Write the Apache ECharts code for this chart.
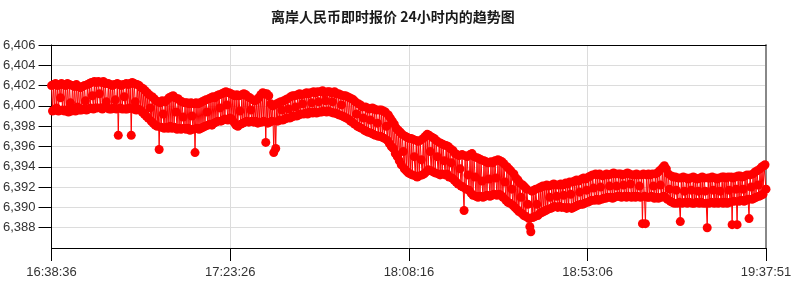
<!DOCTYPE html>
<html>
<head>
<meta charset="utf-8">
<script src="https://cdn.jsdelivr.net/npm/echarts@6/dist/echarts.min.js"></script>
<style>
html,body{margin:0;padding:0;background:#fff;}
#chart{width:800px;height:288px;}
</style>
</head>
<body>
<div id="chart"></div>
<script>
const chartTitle = '离岸人民币即时报价 24小时内的趋势图';
const startTime = '16:38:36';
const stepSeconds = 15;
const xTickLabels = ['16:38:36', '17:23:26', '18:08:16', '18:53:06', '19:37:51'];
const yTickValues = [6.388, 6.390, 6.392, 6.394, 6.396, 6.398, 6.400, 6.402, 6.404, 6.406];

// quotes, one every 15 s (16:38:36 .. 19:37:51)
const quotes = [
  6.4020, 6.3995, 6.4021, 6.3996, 6.4022, 6.3998, 6.4020, 6.3995, 6.4021, 6.4008, 6.4022, 6.3996, 6.4021, 6.3995, 6.4020,
  6.3996, 6.4022, 6.3994, 6.4021, 6.4003, 6.3995, 6.4020, 6.3996, 6.4019, 6.3995, 6.4021, 6.3999, 6.4019, 6.3996, 6.4018,
  6.3996, 6.4019, 6.3997, 6.4020, 6.4005, 6.3996, 6.4021, 6.3997, 6.4022, 6.3998, 6.4023, 6.4010, 6.3997, 6.4024, 6.3998,
  6.4023, 6.3998, 6.4024, 6.4012, 6.3998, 6.4023, 6.3997, 6.4024, 6.3999, 6.4022, 6.4004, 6.3998, 6.4022, 6.3997, 6.4021,
  6.3997, 6.4020, 6.3998, 6.4021, 6.4006, 6.3997, 6.4022, 6.3971, 6.4021, 6.3998, 6.4020, 6.3997, 6.4021, 6.4009, 6.3997,
  6.4022, 6.3997, 6.4021, 6.3998, 6.4022, 6.3971, 6.4023, 6.3997, 6.4022, 6.4004, 6.3996, 6.4021, 6.3997, 6.4020, 6.3996,
  6.4018, 6.3994, 6.4017, 6.3992, 6.4015, 6.3990, 6.4013, 6.3988, 6.4011, 6.3998, 6.3985, 6.4009, 6.3983, 6.4007, 6.3981,
  6.4005, 6.3980, 6.4004, 6.3957, 6.4003, 6.3979, 6.4005, 6.3992, 6.3978, 6.4004, 6.3979, 6.4006, 6.3978, 6.4008, 6.3980,
  6.4009, 6.3978, 6.4010, 6.3979, 6.4008, 6.3994, 6.3977, 6.4007, 6.3978, 6.4005, 6.3977, 6.4004, 6.3989, 6.3978, 6.4003,
  6.3977, 6.4003, 6.3978, 6.4002, 6.3976, 6.4003, 6.3990, 6.3977, 6.4002, 6.3954, 6.4003, 6.3978, 6.4002, 6.3977, 6.4003,
  6.3978, 6.4004, 6.3979, 6.4005, 6.3980, 6.4006, 6.3994, 6.3981, 6.4007, 6.3982, 6.4008, 6.3981, 6.4009, 6.3983, 6.4008,
  6.3984, 6.4010, 6.3985, 6.4011, 6.3998, 6.3985, 6.4012, 6.3986, 6.4013, 6.3987, 6.4014, 6.4001, 6.3986, 6.4013, 6.3988,
  6.4012, 6.3987, 6.4011, 6.3984, 6.4010, 6.3981, 6.4011, 6.3980, 6.4010, 6.3995, 6.3982, 6.4011, 6.3983, 6.4012, 6.3984,
  6.4011, 6.3985, 6.4009, 6.3984, 6.4008, 6.3996, 6.3985, 6.4006, 6.3984, 6.4005, 6.3985, 6.4006, 6.3983, 6.4008, 6.3984,
  6.4011, 6.3984, 6.4013, 6.3985, 6.4012, 6.3964, 6.4012, 6.3983, 6.4010, 6.3984, 6.4002, 6.3985, 6.4000, 6.3954, 6.4001,
  6.3958, 6.4002, 6.3985, 6.4003, 6.3986, 6.4004, 6.3996, 6.3986, 6.4005, 6.3987, 6.4006, 6.3988, 6.4007, 6.3997, 6.3988,
  6.4009, 6.3989, 6.4010, 6.3990, 6.4010, 6.3999, 6.3990, 6.4011, 6.3991, 6.4012, 6.3992, 6.4011, 6.4002, 6.3992, 6.4012,
  6.3993, 6.4013, 6.3992, 6.4012, 6.3994, 6.4013, 6.4003, 6.3993, 6.4014, 6.3994, 6.4013, 6.3993, 6.4014, 6.4004, 6.3994,
  6.4014, 6.3994, 6.4015, 6.3995, 6.4013, 6.4005, 6.3994, 6.4014, 6.3995, 6.4014, 6.3994, 6.4013, 6.4004, 6.3993, 6.4014,
  6.3993, 6.4012, 6.3992, 6.4012, 6.3991, 6.4011, 6.4001, 6.3990, 6.4010, 6.3989, 6.4010, 6.3988, 6.4009, 6.3987, 6.4008,
  6.3985, 6.4007, 6.3984, 6.4006, 6.3982, 6.4004, 6.3992, 6.3980, 6.4002, 6.3979, 6.4001, 6.3978, 6.3999, 6.3988, 6.3976,
  6.3999, 6.3975, 6.3998, 6.3974, 6.3997, 6.3986, 6.3973, 6.3998, 6.3972, 6.3997, 6.3971, 6.3996, 6.3983, 6.3970, 6.3996,
  6.3970, 6.3996, 6.3969, 6.3995, 6.3968, 6.3994, 6.3980, 6.3966, 6.3991, 6.3963, 6.3988, 6.3960, 6.3985, 6.3958, 6.3982,
  6.3953, 6.3978, 6.3950, 6.3976, 6.3946, 6.3974, 6.3942, 6.3972, 6.3955, 6.3938, 6.3970, 6.3936, 6.3969, 6.3934, 6.3968,
  6.3933, 6.3968, 6.3932, 6.3967, 6.3950, 6.3931, 6.3966, 6.3930, 6.3965, 6.3931, 6.3966, 6.3947, 6.3932, 6.3968, 6.3933,
  6.3970, 6.3935, 6.3972, 6.3937, 6.3971, 6.3955, 6.3936, 6.3969, 6.3935, 6.3968, 6.3934, 6.3966, 6.3950, 6.3933, 6.3964,
  6.3932, 6.3963, 6.3933, 6.3962, 6.3946, 6.3932, 6.3961, 6.3933, 6.3960, 6.3930, 6.3958, 6.3944, 6.3929, 6.3956, 6.3927,
  6.3953, 6.3925, 6.3952, 6.3923, 6.3951, 6.3938, 6.3921, 6.3952, 6.3920, 6.3897, 6.3951, 6.3918, 6.3950, 6.3932, 6.3917,
  6.3952, 6.3914, 6.3953, 6.3912, 6.3950, 6.3930, 6.3911, 6.3949, 6.3910, 6.3948, 6.3911, 6.3947, 6.3926, 6.3910, 6.3946,
  6.3911, 6.3945, 6.3912, 6.3944, 6.3928, 6.3911, 6.3945, 6.3912, 6.3944, 6.3913, 6.3946, 6.3929, 6.3912, 6.3947, 6.3913,
  6.3946, 6.3912, 6.3945, 6.3910, 6.3943, 6.3925, 6.3907, 6.3940, 6.3905, 6.3938, 6.3904, 6.3936, 6.3918, 6.3902, 6.3933,
  6.3900, 6.3929, 6.3898, 6.3927, 6.3896, 6.3924, 6.3910, 6.3894, 6.3922, 6.3892, 6.3920, 6.3891, 6.3918, 6.3903, 6.3889,
  6.3881, 6.3876, 6.3916, 6.3890, 6.3917, 6.3891, 6.3918, 6.3903, 6.3892, 6.3919, 6.3894, 6.3920, 6.3895, 6.3921, 6.3896,
  6.3921, 6.3897, 6.3922, 6.3898, 6.3921, 6.3910, 6.3899, 6.3922, 6.3900, 6.3923, 6.3901, 6.3922, 6.3911, 6.3900, 6.3922,
  6.3901, 6.3923, 6.3900, 6.3922, 6.3912, 6.3900, 6.3924, 6.3899, 6.3923, 6.3900, 6.3925, 6.3913, 6.3899, 6.3925, 6.3900,
  6.3926, 6.3901, 6.3927, 6.3902, 6.3926, 6.3915, 6.3903, 6.3928, 6.3903, 6.3929, 6.3904, 6.3928, 6.3917, 6.3905, 6.3930,
  6.3906, 6.3931, 6.3907, 6.3932, 6.3919, 6.3907, 6.3933, 6.3908, 6.3932, 6.3907, 6.3933, 6.3920, 6.3908, 6.3931, 6.3909,
  6.3932, 6.3909, 6.3933, 6.3910, 6.3932, 6.3921, 6.3910, 6.3933, 6.3909, 6.3934, 6.3910, 6.3933, 6.3921, 6.3911, 6.3933,
  6.3911, 6.3933, 6.3910, 6.3932, 6.3922, 6.3911, 6.3933, 6.3910, 6.3934, 6.3911, 6.3933, 6.3923, 6.3910, 6.3932, 6.3911,
  6.3932, 6.3910, 6.3933, 6.3911, 6.3932, 6.3921, 6.3910, 6.3932, 6.3884, 6.3933, 6.3911, 6.3884, 6.3932, 6.3910, 6.3933,
  6.3910, 6.3932, 6.3911, 6.3933, 6.3921, 6.3909, 6.3933, 6.3910, 6.3934, 6.3909, 6.3936, 6.3922, 6.3910, 6.3939, 6.3911,
  6.3941, 6.3910, 6.3938, 6.3908, 6.3933, 6.3918, 6.3906, 6.3931, 6.3905, 6.3930, 6.3904, 6.3930, 6.3917, 6.3904, 6.3929,
  6.3905, 6.3886, 6.3929, 6.3904, 6.3930, 6.3916, 6.3905, 6.3929, 6.3904, 6.3928, 6.3905, 6.3929, 6.3917, 6.3904, 6.3930,
  6.3904, 6.3929, 6.3905, 6.3928, 6.3916, 6.3904, 6.3929, 6.3905, 6.3930, 6.3904, 6.3929, 6.3916, 6.3904, 6.3880, 6.3929,
  6.3904, 6.3929, 6.3905, 6.3930, 6.3917, 6.3904, 6.3929, 6.3905, 6.3928, 6.3904, 6.3929, 6.3916, 6.3905, 6.3930, 6.3904,
  6.3930, 6.3905, 6.3929, 6.3904, 6.3930, 6.3917, 6.3905, 6.3930, 6.3883, 6.3929, 6.3906, 6.3930, 6.3918, 6.3883, 6.3931,
  6.3906, 6.3931, 6.3907, 6.3930, 6.3918, 6.3906, 6.3931, 6.3907, 6.3932, 6.3908, 6.3889, 6.3932, 6.3920, 6.3908, 6.3933,
  6.3909, 6.3935, 6.3910, 6.3936, 6.3922, 6.3911, 6.3938, 6.3912, 6.3940, 6.3913, 6.3941, 6.3942, 6.3918
];

function toSec(s) {
  const p = s.split(':').map(Number);
  return p[0] * 3600 + p[1] * 60 + p[2];
}
const t0 = toSec(startTime);
const xTickSecs = xTickLabels.map(l => toSec(l) - t0);
const xMax = xTickSecs[xTickSecs.length - 1];
const xInterval = xTickSecs[1] - xTickSecs[0];
const seriesData = quotes.map((v, i) => [i * stepSeconds, v]);

function fmtTime(sec) {
  let s = Math.round(sec) + t0;
  const h = Math.floor(s / 3600); s -= h * 3600;
  const m = Math.floor(s / 60); s -= m * 60;
  const pad = n => String(n).padStart(2, '0');
  return pad(h) + ':' + pad(m) + ':' + pad(s);
}

const yMin = 6.386, yMax = yTickValues[yTickValues.length - 1], yInterval = 0.002;
const labelFont = '"Liberation Sans", Arial, sans-serif';

const chart = echarts.init(document.getElementById('chart'), null, {renderer: 'canvas'});
chart.setOption({
  animation: false,
  backgroundColor: '#fff',
  title: {
    text: chartTitle,
    left: 266,
    top: 5,
    textStyle: {fontSize: 14, fontWeight: 'bold', color: '#1a1a1a', fontFamily: '"Noto Sans CJK SC", sans-serif'}
  },
  grid: {left: 51, right: 34, top: 45, bottom: 40, containLabel: false},
  xAxis: [{
    type: 'value',
    min: 0, max: xMax, interval: xInterval,
    axisLine: {show: true, lineStyle: {color: '#000', width: 1}},
    axisTick: {show: true, length: 13, lineStyle: {color: '#000'}},
    axisLabel: {
      margin: 18, color: '#333', fontSize: 13, fontFamily: labelFont,
      showMinLabel: true, showMaxLabel: true,
      formatter: v => fmtTime(v)
    },
    splitLine: {show: true, lineStyle: {color: '#dcdcdc', width: 1}}
  }, {
    type: 'value', position: 'top',
    min: 0, max: xMax,
    axisLine: {show: true, onZero: false, lineStyle: {color: '#000', width: 1}},
    axisTick: {show: false}, axisLabel: {show: false}, splitLine: {show: false}
  }],
  yAxis: [{
    type: 'value',
    min: yMin, max: yMax, interval: yInterval,
    axisLine: {show: true, onZero: false, lineStyle: {color: '#000', width: 1}},
    axisTick: {show: true, length: 13, lineStyle: {color: '#000'}, customValues: yTickValues},
    axisLabel: {
      margin: 16, color: '#333', fontSize: 13, fontFamily: labelFont,
      customValues: yTickValues,
      formatter: v => v.toFixed(3).replace('.', ',')
    },
    splitLine: {show: true, lineStyle: {color: '#dcdcdc', width: 1}}
  }, {
    type: 'value', position: 'right',
    min: yMin, max: yMax,
    axisLine: {show: true, onZero: false, lineStyle: {color: '#888', width: 2}},
    axisTick: {show: false}, axisLabel: {show: false}, splitLine: {show: false}
  }],
  series: [{
    type: 'line',
    xAxisIndex: 0, yAxisIndex: 0,
    data: seriesData,
    symbol: 'circle',
    symbolSize: 9,
    showSymbol: true,
    showAllSymbol: true,
    sampling: null,
    itemStyle: {color: '#ff0000'},
    lineStyle: {color: '#ff0000', width: 1},
    z: 3
  }]
});
</script>
</body>
</html>
